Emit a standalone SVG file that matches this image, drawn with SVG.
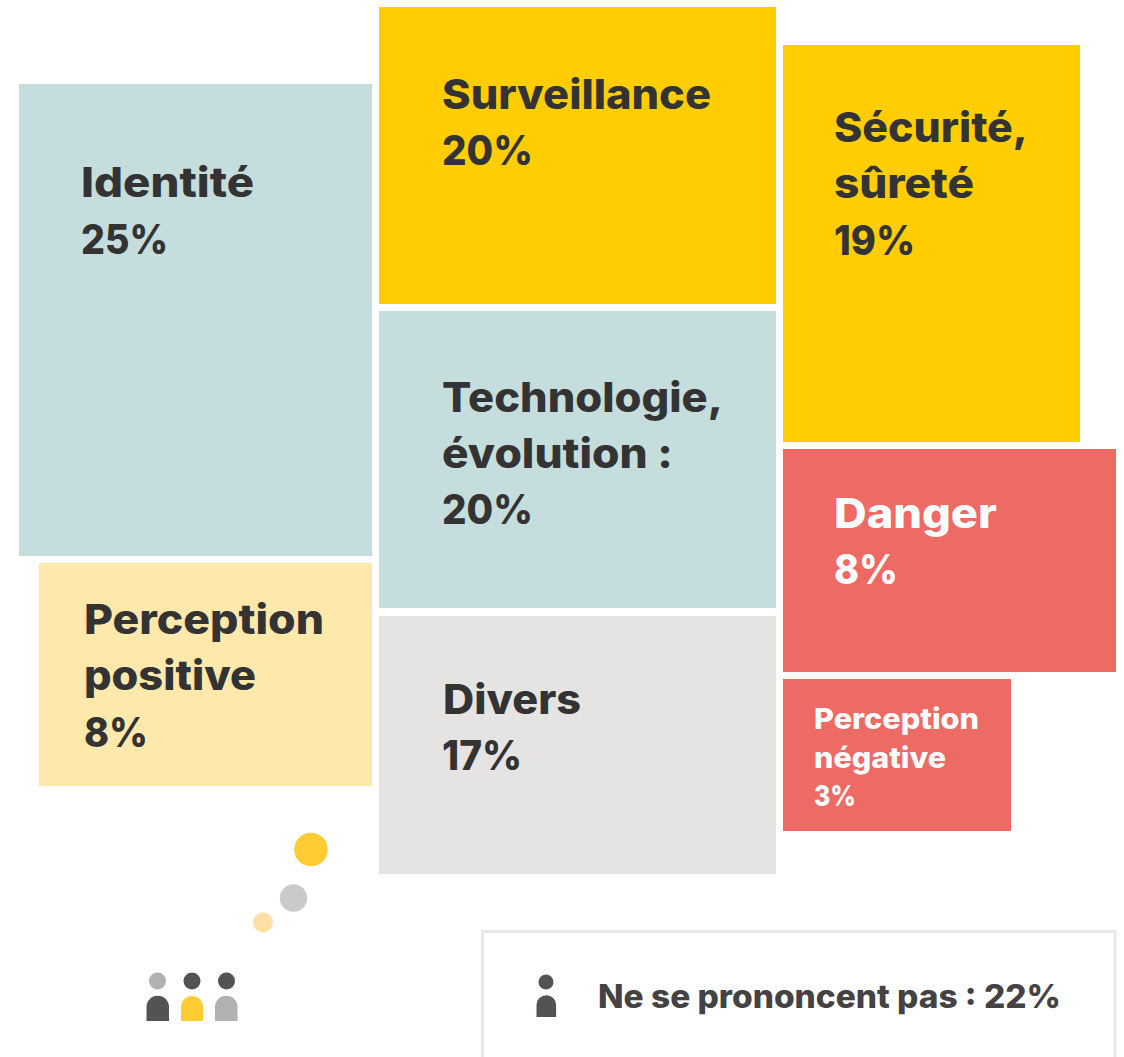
<svg xmlns="http://www.w3.org/2000/svg" width="1124" height="1057" viewBox="0 0 1124 1057">
<style>
text{font-family:"Inter","Liberation Sans",sans-serif;font-weight:800;fill:#333333;font-size:41px}
.w{fill:#ffffff}
.s{font-size:29px}
.n{font-size:32px;fill:#444242}
.blue{fill:#c5dddd}.yel{fill:#ffcd00}.red{fill:#ed6a65}.pale{fill:#fee8ac}.gray{fill:#e5e4e2}
</style>
<rect width="1124" height="1057" fill="#ffffff"/>
<g id="identite"><rect class="blue" x="19" y="84" width="353" height="472"/>
<text x="81" y="197" textLength="173" lengthAdjust="spacingAndGlyphs">Identité</text><text x="81" y="254" textLength="87" lengthAdjust="spacingAndGlyphs">25%</text></g>
<g id="surveillance"><rect class="yel" x="379" y="7" width="397" height="297"/>
<text x="442" y="109" textLength="269" lengthAdjust="spacingAndGlyphs">Surveillance</text><text x="442" y="165" textLength="91" lengthAdjust="spacingAndGlyphs">20%</text></g>
<g id="securite"><rect class="yel" x="783" y="45" width="297" height="397"/>
<text x="834" y="142" textLength="194" lengthAdjust="spacingAndGlyphs">Sécurité,</text><text x="834" y="198" textLength="140" lengthAdjust="spacingAndGlyphs">sûreté</text><text x="834" y="255" textLength="81" lengthAdjust="spacingAndGlyphs">19%</text></g>
<g id="technologie"><rect class="blue" x="379" y="311" width="397" height="297"/>
<text x="442" y="412" textLength="281" lengthAdjust="spacingAndGlyphs">Technologie,</text><text x="442" y="468" textLength="231" lengthAdjust="spacingAndGlyphs">évolution :</text><text x="442" y="524" textLength="91" lengthAdjust="spacingAndGlyphs">20%</text></g>
<g id="danger"><rect class="red" x="783" y="449" width="333" height="223"/>
<text class="w" x="834" y="528" textLength="163" lengthAdjust="spacingAndGlyphs">Danger</text><text class="w" x="834" y="584" textLength="64" lengthAdjust="spacingAndGlyphs">8%</text></g>
<g id="perception-positive"><rect class="pale" x="39" y="563" width="333" height="223"/>
<text x="84" y="634" textLength="240" lengthAdjust="spacingAndGlyphs">Perception</text><text x="84" y="690" textLength="172" lengthAdjust="spacingAndGlyphs">positive</text><text x="84" y="747" textLength="64" lengthAdjust="spacingAndGlyphs">8%</text></g>
<g id="divers"><rect class="gray" x="379" y="616" width="397" height="258"/>
<text x="443" y="714" textLength="138" lengthAdjust="spacingAndGlyphs">Divers</text><text x="442" y="770" textLength="80" lengthAdjust="spacingAndGlyphs">17%</text></g>
<g id="perception-negative"><rect class="red" x="783" y="679" width="228" height="152"/>
<text class="w s" x="814" y="729" textLength="165" lengthAdjust="spacingAndGlyphs">Perception</text><text class="w s" x="814" y="768" textLength="132" lengthAdjust="spacingAndGlyphs">négative</text><text class="w s" x="814" y="806" textLength="42" lengthAdjust="spacingAndGlyphs">3%</text></g>
<g id="bubbles"><circle cx="311" cy="849.500" r="16.800" fill="#ffcc33"/><circle cx="293.500" cy="898" r="13.700" fill="#cbc9ca"/><circle cx="263" cy="922.500" r="10" fill="#fee0a4"/></g>
<g id="people">
<circle cx="157.500" cy="981" r="8.500" fill="#b2b0b0"/><path d="M146.500 1021V1007a11.250 11.250 0 0 1 22.500 0V1021Z" fill="#545252"/>
<circle cx="192" cy="981" r="8.500" fill="#545252"/><path d="M181 1021V1007a11 11 0 0 1 22 0V1021Z" fill="#ffcc33"/>
<circle cx="226.500" cy="981" r="8.500" fill="#545252"/><path d="M215 1021V1007a11.250 11.250 0 0 1 22.500 0V1021Z" fill="#b2b0b0"/>
</g>
<g id="legend"><path d="M482.500 1057V931.500H1115V1057" fill="none" stroke="#e8e8e8" stroke-width="3"/>
<circle cx="546" cy="982" r="7.500" fill="#545252"/><path d="M536.500 1017V1005a9.800 9.800 0 0 1 19.600 0V1017Z" fill="#545252"/>
<text class="n" x="598" y="1008" textLength="463" lengthAdjust="spacingAndGlyphs">Ne se prononcent pas : 22%</text></g>
<g id="connectors"></g>
</svg>
